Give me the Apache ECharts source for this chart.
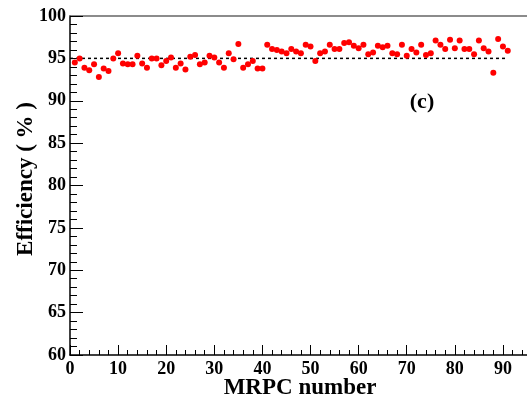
<!DOCTYPE html>
<html>
<head>
<meta charset="utf-8">
<script src="https://cdn.jsdelivr.net/npm/echarts@6/dist/echarts.min.js"></script>
<style>
  html, body { margin: 0; padding: 0; background: #fff; }
  #chart { width: 527px; height: 400px; }
</style>
</head>
<body>
<div id="chart"></div>
<script>
// MRPC module numbers and measured efficiencies (%)
const mrpcNumbers = [
  1, 2, 3, 4, 5, 6, 7, 8, 9, 10,
  11, 12, 13, 14, 15, 16, 17, 18, 19, 20,
  21, 22, 23, 24, 25, 26, 27, 28, 29, 30,
  31, 32, 33, 34, 35, 36, 37, 38, 39, 40,
  41, 42, 43, 44, 45, 46, 47, 48, 49, 50,
  51, 52, 53, 54, 55, 56, 57, 58, 59, 60,
  61, 62, 63, 64, 65, 66, 67, 68, 69, 70,
  71, 72, 73, 74, 75, 76, 77, 78, 79, 80,
  81, 82, 83, 84, 85, 86, 87, 88, 89, 90,
  91
];
const efficiency = [
  94.5, 95.0, 93.9, 93.6, 94.3, 92.8, 93.8, 93.5, 95.0, 95.6,
  94.4, 94.3, 94.3, 95.3, 94.4, 93.9, 95.0, 95.0, 94.2, 94.7,
  95.1, 93.9, 94.4, 93.7, 95.2, 95.4, 94.3, 94.5, 95.3, 95.1,
  94.5, 93.9, 95.6, 94.9, 96.7, 93.9, 94.3, 94.7, 93.8, 93.8,
  96.6, 96.1, 96.0, 95.8, 95.6, 96.1, 95.8, 95.6, 96.6, 96.4,
  94.7, 95.6, 95.8, 96.6, 96.1, 96.1, 96.8, 96.9, 96.5, 96.2,
  96.6, 95.5, 95.7, 96.5, 96.3, 96.5, 95.6, 95.5, 96.6, 95.3,
  96.1, 95.7, 96.6, 95.4, 95.6, 97.1, 96.6, 96.1, 97.2, 96.2,
  97.1, 96.1, 96.1, 95.5, 97.1, 96.2, 95.8, 93.3, 97.3, 96.4,
  95.9
];

// Reference efficiency level and the span of the dashed guide
const referenceLevel = 95;
const referenceFrom = 0;
const referenceTo = 91;

// Axis ranges
const xRange = [0, 95];
const yRange = [60, 100];
const xStep = 10;
const yStep = 5;

const xAxisTitle = 'MRPC number';
const yAxisTitle = 'Efficiency ( % )';
const panelTag = '(c)';

const FONT = '"Liberation Serif", "DejaVu Serif", serif';

const points = mrpcNumbers.map((n, i) => [n, efficiency[i]]);
const guide = [[referenceFrom, referenceLevel], [referenceTo, referenceLevel]];

const chart = echarts.init(document.getElementById('chart'), null, { renderer: 'canvas' });

const labelStyle = { fontFamily: FONT, fontWeight: 'bold', fontSize: 18, color: '#000' };

chart.setOption({
  animation: false,
  backgroundColor: '#fff',
  grid: { left: 70, top: 16, width: 459, height: 339, containLabel: false },
  xAxis: [
    {
      type: 'value',
      min: xRange[0], max: xRange[1], interval: xStep,
      axisLine: { show: true, onZero: false, lineStyle: { color: '#000', width: 1.5 } },
      axisTick: { show: true, inside: true, length: 10, lineStyle: { color: '#000', width: 1 } },
      minorTick: { show: true, splitNumber: 5, length: 5, lineStyle: { color: '#000', width: 1 } },
      axisLabel: Object.assign({ margin: 5, showMaxLabel: false }, labelStyle),
      splitLine: { show: false }
    },
    {
      type: 'value', position: 'top',
      min: xRange[0], max: xRange[1],
      axisLine: { show: true, lineStyle: { color: '#666', width: 1.5 } },
      axisTick: { show: false }, axisLabel: { show: false }, splitLine: { show: false }
    }
  ],
  yAxis: {
    type: 'value',
    min: yRange[0], max: yRange[1], interval: yStep,
    axisLine: { show: true, onZero: false, lineStyle: { color: '#000', width: 1.5 } },
    axisTick: { show: true, inside: true, length: 13, lineStyle: { color: '#000', width: 1 } },
    minorTick: { show: true, splitNumber: 5, length: 7, lineStyle: { color: '#000', width: 1 } },
    axisLabel: Object.assign({ margin: 4 }, labelStyle),
    splitLine: { show: false }
  },
  series: [
    {
      type: 'line',
      data: guide,
      showSymbol: false,
      symbol: 'none',
      lineStyle: { color: '#000', width: 1.5, type: [3, 3] },
      silent: true,
      z: 1
    },
    {
      type: 'scatter',
      data: points,
      symbol: 'circle',
      symbolSize: 6,
      itemStyle: { color: '#ff0000', opacity: 1 },
      z: 3
    }
  ],
  graphic: [
    {
      type: 'text',
      position: [300, 388],
      style: {
        text: xAxisTitle,
        font: 'bold 23px ' + FONT, fill: '#000',
        textAlign: 'center', textVerticalAlign: 'middle'
      }
    },
    {
      type: 'text',
      position: [26, 179],
      rotation: Math.PI / 2,
      style: {
        text: yAxisTitle,
        font: 'bold 23px ' + FONT, fill: '#000',
        textAlign: 'center', textVerticalAlign: 'middle'
      }
    },
    {
      type: 'text',
      position: [422, 102],
      style: {
        text: panelTag,
        font: 'bold 22px ' + FONT, fill: '#000',
        textAlign: 'center', textVerticalAlign: 'middle'
      }
    }
  ]
});
</script>
</body>
</html>
